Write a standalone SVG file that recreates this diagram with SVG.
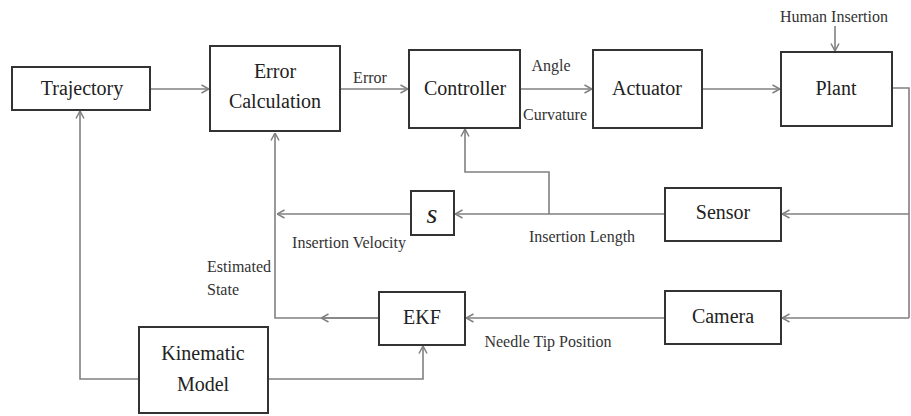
<svg xmlns="http://www.w3.org/2000/svg" width="911" height="416" viewBox="0 0 911 416" font-family="Liberation Serif, DejaVu Serif, serif">
  <style>
    .box { fill: #fff; stroke: #333; stroke-width: 2; }
    .lbl { fill: #222; text-anchor: middle; }
    .sm { fill: #333; }
    .mid { text-anchor: middle; }
    .wire { fill: none; stroke: #808080; stroke-width: 1.6; }
  </style>
  <defs>
    <marker id="arr" viewBox="0 0 10 10" refX="9.5" refY="5" markerWidth="10" markerHeight="10" markerUnits="userSpaceOnUse" orient="auto">
      <polyline points="2,1 9.5,5 2,9" fill="none" stroke="#808080" stroke-width="1.5"/>
    </marker>
  </defs>
  <rect width="911" height="416" fill="#fff"/>

  <g id="connectors">
    <!-- forward path -->
    <line class="wire" x1="150" y1="89" x2="209" y2="89" marker-end="url(#arr)"/>
    <line class="wire" x1="341" y1="89" x2="408" y2="89" marker-end="url(#arr)"/>
    <line class="wire" x1="521" y1="89" x2="592" y2="89" marker-end="url(#arr)"/>
    <line class="wire" x1="703" y1="89" x2="780" y2="89" marker-end="url(#arr)"/>
    <line class="wire" x1="835" y1="26" x2="835" y2="51" marker-end="url(#arr)"/>
    <!-- plant output fed back to sensors -->
    <polyline class="wire" points="893,88 909,88 909,318"/>
    <line class="wire" x1="909" y1="214" x2="782" y2="214" marker-end="url(#arr)"/>
    <line class="wire" x1="909" y1="318" x2="782" y2="318" marker-end="url(#arr)"/>
    <!-- sensor to derivative block, with branch to controller -->
    <line class="wire" x1="665" y1="214" x2="455" y2="214" marker-end="url(#arr)"/>
    <polyline class="wire" points="549,214 549,172 465,172 465,129" marker-end="url(#arr)"/>
    <!-- insertion velocity -->
    <line class="wire" x1="411" y1="214" x2="277" y2="214" marker-end="url(#arr)"/>
    <!-- estimated state up to error calculation -->
    <polyline class="wire" points="379,318 275,318 275,133" marker-end="url(#arr)"/>
    <line class="wire" x1="379" y1="318" x2="321" y2="318" marker-end="url(#arr)"/>
    <!-- camera to EKF -->
    <line class="wire" x1="665" y1="318" x2="466" y2="318" marker-end="url(#arr)"/>
    <!-- kinematic model outputs -->
    <polyline class="wire" points="139,379 80,379 80,111" marker-end="url(#arr)"/>
    <polyline class="wire" points="268,379 423,379 423,346" marker-end="url(#arr)"/>
  </g>

  <g font-size="20">
    <g id="trajectory">
      <rect class="box" x="12" y="67" width="138" height="43"/>
      <text class="lbl" x="82" y="95">Trajectory</text>
    </g>
    <g id="error-calculation">
      <rect class="box" x="210" y="46" width="130" height="85"/>
      <text class="lbl" x="275" y="78">Error</text>
      <text class="lbl" x="275" y="108">Calculation</text>
    </g>
    <g id="controller">
      <rect class="box" x="409" y="50" width="111" height="78"/>
      <text class="lbl" x="465" y="95">Controller</text>
    </g>
    <g id="actuator">
      <rect class="box" x="593" y="50" width="109" height="78"/>
      <text class="lbl" x="647" y="95">Actuator</text>
    </g>
    <g id="plant">
      <rect class="box" x="781" y="52" width="111" height="74"/>
      <text class="lbl" x="836" y="95">Plant</text>
    </g>
    <g id="sensor">
      <rect class="box" x="665" y="188" width="116" height="53"/>
      <text class="lbl" x="723" y="219">Sensor</text>
    </g>
    <g id="derivative">
      <rect class="box" x="411" y="191" width="43" height="44"/>
      <text class="lbl" x="432" y="223" font-style="italic" font-size="28">s</text>
    </g>
    <g id="ekf">
      <rect class="box" x="379" y="292" width="86" height="53"/>
      <text class="lbl" x="422" y="324">EKF</text>
    </g>
    <g id="camera">
      <rect class="box" x="665" y="291" width="116" height="53"/>
      <text class="lbl" x="723" y="323">Camera</text>
    </g>
    <g id="kinematic-model">
      <rect class="box" x="139" y="327" width="129" height="86"/>
      <text class="lbl" x="203" y="360">Kinematic</text>
      <text class="lbl" x="203" y="391">Model</text>
    </g>
  </g>

  <g id="labels" font-size="16">
    <text class="sm mid" x="834" y="22">Human Insertion</text>
    <text class="sm mid" x="370" y="83">Error</text>
    <text class="sm mid" x="551" y="71">Angle</text>
    <text class="sm mid" x="555" y="120">Curvature</text>
    <text class="sm mid" x="582" y="242">Insertion Length</text>
    <text class="sm mid" x="349" y="248">Insertion Velocity</text>
    <text class="sm" x="207" y="272">Estimated</text>
    <text class="sm" x="207" y="295">State</text>
    <text class="sm mid" x="548" y="347">Needle Tip Position</text>
  </g>
</svg>
